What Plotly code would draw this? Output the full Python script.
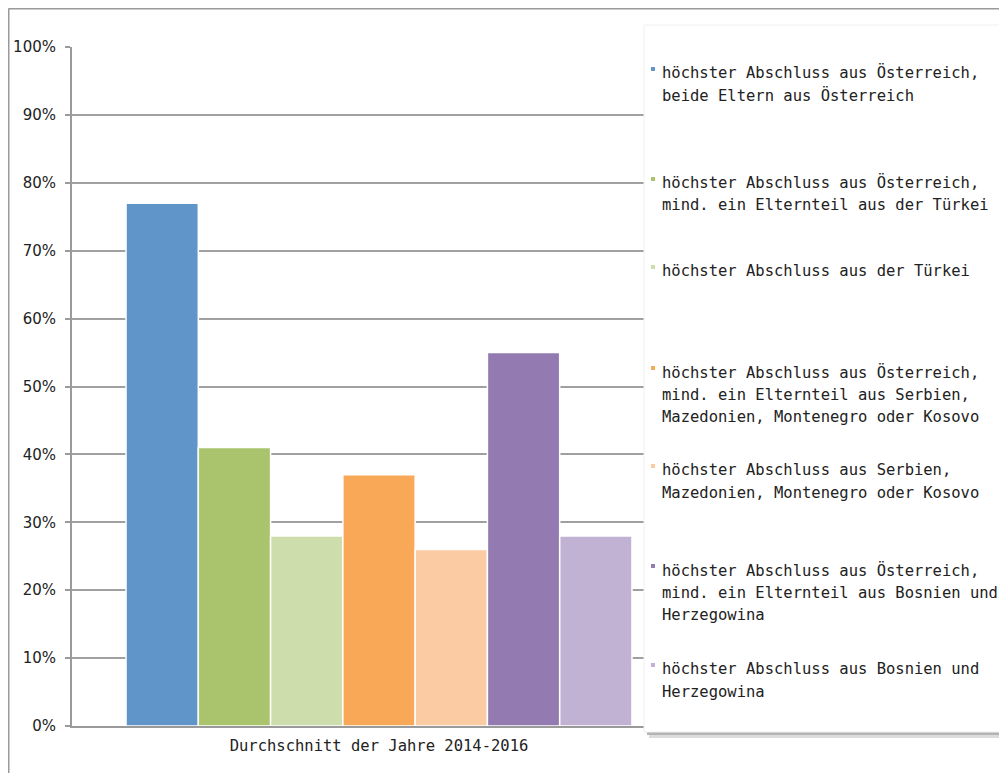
import plotly.graph_objects as go

category = ["Durchschnitt der Jahre 2014-2016"]
series_names = [
    "höchster Abschluss aus Österreich,<br>beide Eltern aus Österreich",
    "höchster Abschluss aus Österreich,<br>mind. ein Elternteil aus der Türkei",
    "höchster Abschluss aus der Türkei",
    "höchster Abschluss aus Österreich,<br>mind. ein Elternteil aus Serbien,<br>Mazedonien, Montenegro oder Kosovo",
    "höchster Abschluss aus Serbien,<br>Mazedonien, Montenegro oder Kosovo",
    "höchster Abschluss aus Österreich,<br>mind. ein Elternteil aus Bosnien und<br>Herzegowina",
    "höchster Abschluss aus Bosnien und<br>Herzegowina",
]
values = [77, 41, 28, 37, 26, 55, 28]
colors = ["#5F95C8", "#AAC46D", "#CEDDAC", "#F9A857", "#FBCBA3", "#937BB2", "#C1B2D4"]
y_ticks = [0, 10, 20, 30, 40, 50, 60, 70, 80, 90, 100]
y_tick_labels = [f"{v}%" for v in y_ticks]

W, H = 999, 765
OFF = 8  # page body margin
L, R, T, B = 72, 686, 47, 726   # plot area in page pixels
PW, PH = R - L, B - T

def px(x):
    return (x - L) / PW

def py(y):
    return (B - y) / PH

FONT = "DejaVu Sans"
MONO = "DejaVu Sans Mono"
fig = go.Figure()
for name, v, c in zip(series_names, values, colors):
    fig.add_trace(go.Bar(
        x=category, y=[v], name=name.replace("<br>", " "),
        marker=dict(color=c, line=dict(color="white", width=1.5)),
        showlegend=False,
    ))

shapes = []
annotations = []
# outer border
shapes.append(dict(type="line", xref="paper", yref="paper", x0=px(8.5), x1=px(1020), y0=py(8.5), y1=py(8.5),
                   line=dict(color="#9a9a9a", width=2)))
shapes.append(dict(type="line", xref="paper", yref="paper", x0=px(8.5), x1=px(8.5), y0=py(8.5), y1=py(800),
                   line=dict(color="#9a9a9a", width=2)))
# legend box with shadow
shapes.append(dict(type="rect", xref="paper", yref="paper", x0=px(649), x1=px(1020), y0=py(30), y1=py(738),
                   fillcolor="#dcdcdc", line=dict(width=0), layer="above"))
shapes.append(dict(type="rect", xref="paper", yref="paper", x0=px(647), x1=px(1020), y0=py(28), y1=py(735),
                   fillcolor="#b4b4b4", line=dict(width=0), layer="above"))
shapes.append(dict(type="rect", xref="paper", yref="paper", x0=px(644), x1=px(1020), y0=py(25), y1=py(732),
                   fillcolor="white", line=dict(color="#f0f0f0", width=1), layer="above"))

first_line_y = [73, 183, 271, 372, 470, 570, 669]
line_h = 22.5
for name, c, y0 in zip(series_names, colors, first_line_y):
    shapes.append(dict(type="rect", xref="paper", yref="paper", x0=px(651), x1=px(655),
                       y0=py(y0 - 6), y1=py(y0 - 2), fillcolor=c, line=dict(width=0), layer="above"))
    for i, line in enumerate(name.split("<br>")):
        annotations.append(dict(xref="paper", yref="paper", x=px(660), y=py(y0 + i * line_h),
                                xanchor="left", yanchor="middle", text=line, showarrow=False,
                                font=dict(family=MONO, size=15.5, color="#222222")))

fig.update_layout(
    width=W, height=H,
    margin=dict(l=L - OFF, r=W - R + OFF, t=T - OFF, b=H - B + OFF),
    paper_bgcolor="white", plot_bgcolor="white",
    barmode="group", bargap=0.176, bargroupgap=0,
    font=dict(family=FONT, size=15, color="#222222"),
    shapes=shapes, annotations=annotations,
    xaxis=dict(showgrid=False, showline=True, linecolor="#9a9a9a", linewidth=2, automargin=False,
               ticks="", ticklabelstandoff=4, tickfont=dict(family=MONO, size=15.5)),
    yaxis=dict(range=[0, 100], tickvals=y_ticks, ticktext=y_tick_labels, automargin=False,
               showgrid=True, gridcolor="#a0a0a0", gridwidth=2,
               showline=True, linecolor="#9a9a9a", linewidth=2,
               ticks="outside", ticklen=5, tickcolor="#9a9a9a", tickwidth=2,
               ticklabelstandoff=6, zeroline=False, tickfont=dict(size=15)),
)
fig.write_html("out.html")
